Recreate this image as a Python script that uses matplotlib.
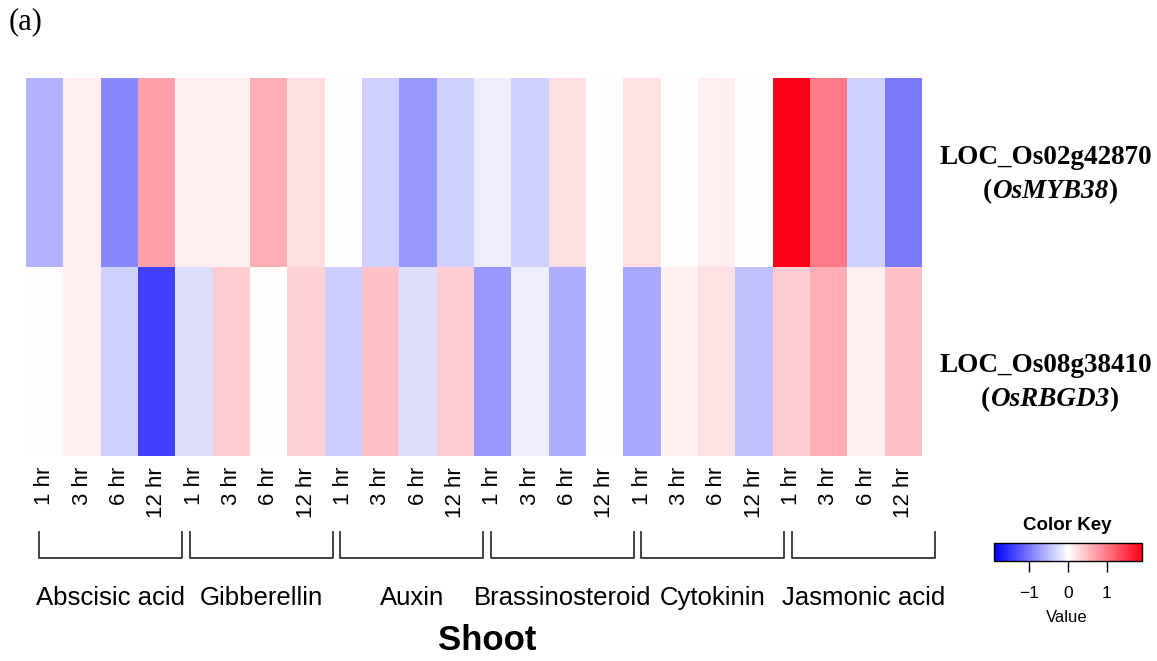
import numpy as np
import matplotlib
matplotlib.use('Agg')
import matplotlib.pyplot as plt
from matplotlib.colors import LinearSegmentedColormap, Normalize
from matplotlib.cm import ScalarMappable
from matplotlib.lines import Line2D

plt.rcParams['font.family'] = ['Liberation Sans', 'DejaVu Sans']

hormones = ['Abscisic acid', 'Gibberellin', 'Auxin', 'Brassinosteroid',
            'Cytokinin', 'Jasmonic acid']
times = ['1 hr', '3 hr', '6 hr', '12 hr']
genes = ['LOC_Os02g42870', 'LOC_Os08g38410']
gene_names = ['OsMYB38', 'OsRBGD3']

# values per hormone block, 1/3/6/12 hr
myb38 = [-0.58, 0.13, -0.90, 0.71,
         0.13, 0.13, 0.60, 0.25,
         0.0, -0.36, -0.77, -0.36,
         -0.13, -0.36, 0.25, 0.0,
         0.23, 0.0, 0.12, 0.0,
         1.92, 1.00, -0.36, -1.00]
rbgd3 = [0.0, 0.12, -0.36, -1.44,
         -0.25, 0.38, 0.0, 0.35,
         -0.38, 0.47, -0.25, 0.38,
         -0.77, -0.13, -0.60, 0.0,
         -0.65, 0.11, 0.23, -0.47,
         0.38, 0.60, 0.13, 0.47]

vlim = 1.92
cmap = LinearSegmentedColormap.from_list('bwr_key', ['#0000FF', '#FFFFFF', '#FF0018'])
norm = Normalize(-vlim, vlim)

W, H = 1157, 661
fig = plt.figure(figsize=(W / 100, H / 100), dpi=100)


def fx(x):
    return x / W


def fy(y):
    return 1 - y / H


# heatmap
ax = fig.add_axes([fx(26), fy(456), 896 / W, 378 / H])
data = np.array([myb38, rbgd3])
ax.pcolormesh(data, cmap=cmap, norm=norm)
ax.set_xlim(0, 24)
ax.set_ylim(2, 0)
ax.set_xticks(np.arange(24) + 0.5)
ax.set_xticklabels(times * len(hormones), rotation=90, fontsize=16)
ax.tick_params(axis='x', length=0, pad=8)
ax.set_yticks([])
for s in ax.spines.values():
    s.set_visible(False)

# brackets and group labels
for k, name in enumerate(hormones):
    x0 = 39 + 150.6 * k
    x1 = 182 + 150.6 * k
    fig.add_artist(Line2D([fx(x0), fx(x0), fx(x1), fx(x1)],
                          [fy(532), fy(558), fy(558), fy(532)],
                          color='#333333', lw=1.3))
    fig.text(fx((x0 + x1) / 2), fy(598), name, ha='center', va='center',
             fontsize=18.5)

fig.text(fx(487), fy(640), 'Shoot', ha='center', va='center',
         fontsize=25, fontweight='bold')

fig.text(fx(9), fy(22), '(a)', ha='left', va='center', fontsize=22,
         family='Liberation Serif')

# row labels: bold serif, gene name in bold italic
renderer = fig.canvas.get_renderer()
for i, (g, n) in enumerate(zip(genes, gene_names)):
    yc = 174 + 208 * i
    fig.text(fx(1046), fy(yc - 16), g, ha='center', va='center',
             fontsize=19.5, fontweight='bold', family='Liberation Serif')
    parts = [('(', 'normal'), (n, 'italic'), (')', 'normal')]
    pieces = [fig.text(0, fy(yc + 18), s, va='center', fontsize=19.5,
                       fontweight='bold', style=st, family='Liberation Serif')
              for s, st in parts]
    widths = [p.get_window_extent(renderer).width for p in pieces]
    x = 1050 - sum(widths) / 2
    for p, w in zip(pieces, widths):
        p.set_x(fx(x))
        x += w

# color key
cax = fig.add_axes([fx(994), fy(561), 148 / W, 18 / H])
sm = ScalarMappable(norm=norm, cmap=cmap)
cb = fig.colorbar(sm, cax=cax, orientation='horizontal', ticks=[-1, 0, 1])
cb.outline.set_linewidth(1.0)
cax.tick_params(length=8, width=1, pad=10, labelsize=12.5)
cax.set_xticklabels(['\u22121', '0', '1'])
fig.text(fx(1067), fy(526), 'Color Key', ha='center', va='center',
         fontsize=13.5, fontweight='bold')
fig.text(fx(1067), fy(617), 'Value', ha='center', va='center', fontsize=12)

fig.savefig('out.png', dpi=100, facecolor='white')
